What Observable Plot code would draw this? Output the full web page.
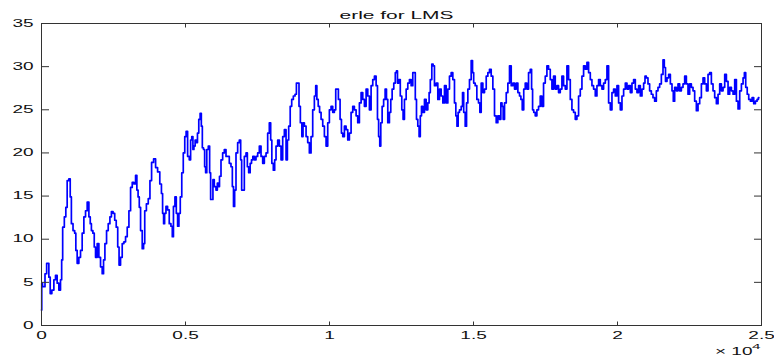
<!DOCTYPE html>
<html><head><meta charset="utf-8">
<script src="https://cdn.jsdelivr.net/npm/d3@7"></script>
<script src="https://cdn.jsdelivr.net/npm/@observablehq/plot@0.6"></script>
<style>
html,body{margin:0;padding:0;background:#fff;}
#chart{width:774px;height:362px;overflow:hidden;}
</style></head><body><div id="chart"></div>
<script>
const title = "erle for LMS";
const xTicks = [0, 5000, 10000, 15000, 20000, 25000];
const xTickLabels = ["0", "0.5", "1", "1.5", "2", "2.5"];
const yTicks = [0, 5, 10, 15, 20, 25, 30, 35];
const xExponentBase = "× 10";
const xExponentPower = "4";

// sample index (iterations)
const t = [
  0,17,52,111,132,226,285,320,400,459, 514,573,632,688,712,758,827,862,921,980,
  1015,1060,1129,1175,1209,1268,1327,1383,1442,1501, 1557,1616,1675,1710,1755,1814,1849,1904,1963,2022,
  2078,2137,2172,2231,2287,2346,2405,2450,2519,2565, 2624,2669,2717,2773,2832,2891,2947,3006,3065,3121,
  3180,3239,3294,3329,3378,3412,3468,3527,3562,3607, 3677,3736,3795,3850,3934,3989,4073,4142,4187,4222,
  4257,4292,4351,4406,4465,4524,4559,4604,4663,4698, 4754,4789,4848,4893,4952,4997,5046,5101,5160,5195,
  5240,5275,5310,5358,5393,5438,5484,5532,5567,5602, 5647,5682,5716,5762,5821,5855,5890,5935,5970,6029,
  6088,6123,6158,6203,6262,6318,6377,6436,6491,6550, 6609,6644,6689,6724,6783,6839,6898,6933,6967,7013,
  7072,7131,7165,7221,7270,7315,7360,7419,7478,7534, 7593,7652,7708,7767,7826,7881,7940,7975,8020,8079,
  8114,8173,8229,8288,8347,8403,8462,
  8521,8555,8611,8660,8715,8774,8833,8868,8924,8958, 9018,9063,9098,9157,9216,9271,9330,9389,9445,9504,
  9539,9584,9633,9678,9737,9793,9852,9911,9966,10025, 10084,10140,10199,10234,10279,10338,10397,10432,10488,10547,
  10606,10661,10720,10779,10835,10894,10953,11008,11068,11127, 11183,11241,11301,11356,11415,11474,11530,11589,11648,11683,
  11728,11763,11798,11857,11902,11961,11996,12051,12110,12145, 12204,12260,12308,12343,12378,12434,12482,12538,12573,12632,
  12691,12746,12805,12864,12920,12955,13003,13038,13094,13128, 13177,13212,13268,13327,13386,13441,13476,13525,13580,13615,
  13674,13733,13789,13848,13907,13963,14022,14081,14136,14195, 14254,14310,14369,14404,14449,14484,14543,14602,14637,14682,
  14741,14776,14831,14890,14949,14984,15029,15088,15144,15203, 15238,15297,15353,15412,15471,15526,15585,15644,15700,15759,
  15818,15873,15932,15967,16013,16048,16107,16166,16221,16280, 16339,16395,16454,16513,16569,16628,
  16663,16722,16767,16826,16882,16941,17000,17034,17069,17114, 17173,17229,17288,17347,17403,17462,17521,17577,17636,17695,
  17751,17809,17868,17924,17983,18042,18098,18157,18216,18272, 18331,18390,18445,18504,18563,18619,18678,18737,18793,18852,
  18911,18967,19026,19085,19140,19199,19258,19314,19373,19432, 19488,19547,19606,19662,19721,19780,19835,19894,19953,20009,
  20068,20127,20183,20242,20301,20357,20416,20475,20530,20589, 20648,20704,20763,20822,20878,20937,
  20972,21031,21086,21145,21204,21260,21319,21378,21434,21493, 21552,21608,21642,21691,21747,21806,21865,21920,21955,22014,
  22073,22129,22188,22247,22303,22362,22421,22476,22535,22594, 22650,22709,22768,22824,22883,22942,22998,23057,23116,23171,
  23230,23289,23345,23404,23463,23519,23578,23637,23693,23752, 23811,23866,23925,23984,24040,24099,24158,24214,24273,24332,
  24388,24423,24481,24527,24586,24645,24700,24759,24818,24874, 24909
];

// ERLE (dB)
const erle = [
  1.8,4.9,4.5,4.5,6,7.2,5.6,3.7,4.1,5.3, 5.8,4.9,4.1,5.3,7.6,11.4,12.6,13.7,16.8,17,
  14.9,11.8,11,10.7,8.7,7.2,7.9,8.7,10.7,12.6, 13.3,14.3,12.6,11.8,11,10.7,9.1,7.9,9.5,7.9,
  6.8,6,7.6,9.5,11,11.8,12.6,13.2,13,12.2, 11.4,9.1,7,7.9,9.5,9.7,10.3,11.4,13.3,16,
  16.6,16.4,17.4,15.7,14.9,13.7,11,8.9,9.5,13.3, 14.1,14.7,16.8,18.9,19.3,18.3,17.8,16.4,15.3,13,
  11.8,13,13.8,13.4,11.8,11.5,10.3,13.8,14.9,13, 11.5,13,14.9,17.7,20,21.9,22.5,19.6,19.2,21.5,
  21.9,20.4,20.8,21.5,21.2,22.3,23.9,24.6,23.1,20.6, 20.4,18.4,17.7,20.4,20.8,17.7,14.6,14.6,16.9,16.1,
  15.7,16.5,16.1,17.3,19.2,20,20.4,19.6,19.6,18.8, 18.4,16.1,13.8,15.7,20,21.2,21.5,19.2,15.7,15.7,
  19.6,20,18.4,17.7,18.8,19.2,19.6,19.2,19.6,20, 20.8,19.6,18.8,19.6,20,22.3,23.5,21.5,18.8,18,
  19.2,20.8,21.5,20.8,19.2,21.9,22.7,
  19.2,21.5,23.1,25.4,26.2,26.6,26.8,28.1,28.1,25.4, 23.5,21.9,23.5,23.1,21.9,21.2,20,21.9,25,26.6,
  27.8,26.2,25.4,24.7,23.9,23.1,21.9,20.8,23.5,25, 25.4,24.7,25,27.4,27.4,26.2,23.9,22.3,21.9,23.1,
  22.7,21.5,22.3,24.7,25.4,25,24.3,23.5,25.8,27, 26.2,25.4,27.4,26.6,25,27.8,28.5,28.9,27.8,23.9,
  21.9,20.8,23.5,25.4,26.2,27.4,26.2,23.5,24.7,26.2, 27.4,28.1,29.3,29.5,28.1,28.5,26.6,25,23.9,26.2,
  27.4,28.1,28.5,27.8,29.3,29.3,26.2,23.9,23.1,21.9, 24.3,25.4,24.7,26.2,25,25.8,27,28.5,30.3,30.1,
  27.8,28.1,26.2,27.4,26.6,25.8,27.8,25.8,27.4,28.9, 29.3,28.5,25.8,24.3,23.1,24.7,25,25.4,27,24.7,
  23.1,25.8,27.4,28.5,30.7,29.3,28.1,27.8,26.2,25.8, 24.7,28.1,27,27.4,28.9,29.3,29.7,28.9,27.4,24.3,
  23.5,24.3,23.9,25.8,25.4,23.9,25.8,27,28.1,30.1, 27.8,28.1,27.4,28.1,27,26.6,
  26.2,25,27.4,28.1,27.4,29.3,29.7,27.4,25,24.7, 24.3,25,25.4,26.6,25.4,28.1,28.9,30.1,29.7,28.5,
  27.4,28.9,27.4,27.8,27,27.4,28.9,27.8,27.4,30.1, 28.5,26.2,25,24.7,23.9,24.3,26.6,27.4,28.9,30.1,
  29.7,30.5,29.3,28.5,27.8,27.4,26.6,27.8,28.5,27.8, 27.4,28.1,28.5,30.1,25.8,25,27,27.4,26.6,27.8,
  25.8,25,26.6,27.4,28.1,27.4,27.8,27,28.1,28.5, 27.4,27,27.8,26.6,27.4,28.1,
  28.9,28.7,28,27.2,26.8,26.4,26,27.2,27.6,28, 29.1,30.8,29.9,28.3,28.7,29.1,28,27.2,26,27.6,
  27.2,28,27.2,27.6,28,28.9,28,26.8,28,27.6, 27.2,26,24.9,25.7,26.4,28,28.7,28,27.2,29.1,
  29.3,28,27.2,26.4,25.7,26.8,28,27.2,27.6,29.1, 28.3,26.8,27.6,27.2,26.8,28.5,26,25.1,27.2,28,
  28.7,29.3,27.6,26.8,26.2,26,26.4,25.7,26,26.2, 26.4
];

const data = t.map((x, i) => ({t: x, erle: erle[i]}));
const fmtX = d => xTickLabels[xTicks.indexOf(d)];
const axisColor = "#333";

const plot = Plot.plot({
  width: 774,
  height: 362,
  marginLeft: 41,
  marginRight: 13,
  marginTop: 23,
  marginBottom: 37,
  style: {fontFamily: "'Liberation Sans', Arial, sans-serif", fontSize: "10px", color: "#111", background: "#fff"},
  x: {domain: [0, 25000]},
  y: {domain: [0, 35]},
  marks: [
    Plot.lineY(data, {x: "t", y: "erle", stroke: "#0000ff", strokeWidth: 1.7, curve: "step"}),
    Plot.frame({stroke: axisColor, strokeWidth: 1}),
    Plot.axisX({anchor: "bottom", ticks: xTicks, tickSize: 0, tickPadding: 6, tickFormat: fmtX, label: null}),
    Plot.axisX({anchor: "bottom", ticks: xTicks, tickSize: -3.5, tickFormat: () => "", label: null, stroke: axisColor}),
    Plot.axisX({anchor: "top", ticks: xTicks, tickSize: -3.5, tickFormat: () => "", label: null, stroke: axisColor}),
    Plot.axisY({anchor: "left", ticks: yTicks, tickSize: 0, tickPadding: 8, label: null}),
    Plot.axisY({anchor: "left", ticks: yTicks, tickSize: -8, tickFormat: () => "", label: null, stroke: axisColor}),
    Plot.axisY({anchor: "right", ticks: yTicks, tickSize: -8, tickFormat: () => "", label: null, stroke: axisColor}),
    Plot.text([title], {text: d => d, frameAnchor: "top", dy: -12, dx: -5, fontSize: 11}),
    Plot.text([xExponentBase], {text: d => d, frameAnchor: "bottom-right", textAnchor: "end", dy: 29, dx: -9}),
    Plot.text([xExponentPower], {text: d => d, frameAnchor: "bottom-right", textAnchor: "end", dy: 23, dx: -1, fontSize: 8})
  ]
});

document.getElementById("chart").append(plot);

// widen glyphs like the original bitmap font
plot.querySelectorAll("text").forEach(el => {
  if (!el.textContent) return;
  const len = el.getComputedTextLength();
  if (len > 0) {
    el.setAttribute("textLength", (len * 1.9).toFixed(1));
    el.setAttribute("lengthAdjust", "spacingAndGlyphs");
  }
});
</script>
</body></html>
